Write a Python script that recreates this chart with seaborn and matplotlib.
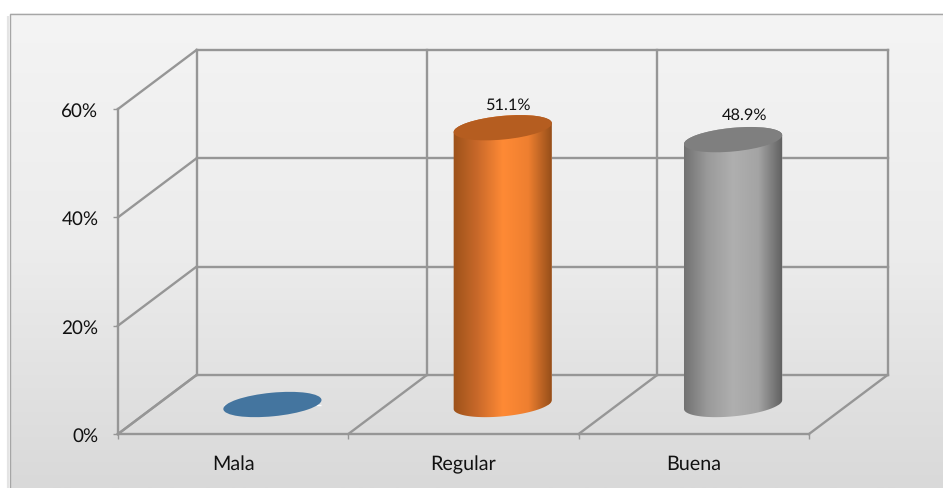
import numpy as np
import matplotlib
matplotlib.use("Agg")
import matplotlib.pyplot as plt
import seaborn as sns
from matplotlib.colors import LinearSegmentedColormap
from matplotlib.patches import Ellipse, PathPatch
from matplotlib.path import Path
from matplotlib.transforms import Affine2D, IdentityTransform

categories = ["Mala", "Regular", "Buena"]
values = [0.0, 51.1, 48.9]
value_labels = ["", "51.1%", "48.9%"]
y_ticks = [0, 20, 40, 60]
y_tick_labels = ["0%", "20%", "40%", "60%"]

bar_colors = ["#44759F", "#ED7D31", "#A5A5A5"]
top_colors = ["#44759F", "#B55D20", "#7F7F7F"]
side_stops = [None,
              ["#9A5019", "#C9692A", "#FF8A35", "#EE7F30", "#8E4A17"],
              ["#6E6E6E", "#9A9A9A", "#AFAFAF", "#A4A4A4", "#5C5C5C"]]
grid_color = "#969696"

W, H = 943, 489
DX, DY = 78.5, 59.0          # depth of the 3-D box, in pixels
BAR_W = 0.421
ELL_A, ELL_B, ELL_T = 49.3, 11.8, 5.5
LABEL_OFFSETS = [(0, 0), (5.5, 23), (11, 25)]

sns.set_theme(style="white")
plt.rcParams["font.family"] = ["Lato", "DejaVu Sans"]
plt.rcParams["text.hinting"] = "no_hinting"

fig = plt.figure(figsize=(W / 100, H / 100), dpi=100, facecolor="white")

# chart-area background
bg = fig.add_axes([0, 0, 1, 1], zorder=0)
bg.set_xlim(0, W)
bg.set_ylim(H, 0)
bg.axis("off")
bg.imshow(np.linspace(0, 1, 256).reshape(-1, 1),
          cmap=LinearSegmentedColormap.from_list("bg", ["#F4F4F4", "#ECECEC", "#D9D9D9"]),
          extent=(10, W, H, 14.5), aspect="auto", vmin=0, vmax=1)
bg.plot([7.5, 7.5], [17, H], color="#E4E4E4", lw=1.6, solid_capstyle="butt")
bg.plot([10, 10, W], [H, 14.5, 14.5], color="#A6A6A6", lw=1.0, solid_joinstyle="miter")
bg.set_xlim(0, W)
bg.set_ylim(H, 0)

# main axes = the front plane of the 3-D box
ax = fig.add_axes([118 / W, (H - 435) / H, (809 - 118) / W, (435 - 110) / H], zorder=1)
ax.patch.set_visible(False)
sns.barplot(x=categories, y=values, hue=categories, palette=bar_colors,
            width=BAR_W, dodge=False, legend=False, ax=ax, saturation=1)
ax.set_xlim(-0.5, 2.5)
ax.set_ylim(0, 60)
ax.set_xlabel("")
ax.set_ylabel("")

back = ax.transData + Affine2D().translate(DX, DY)
mid = ax.transData + Affine2D().translate(DX / 2, DY / 2)
bars = list(ax.patches)
for p in bars:
    p.set_transform(mid)
    p.set_zorder(3)

# box lines
boundaries = [-0.5, 0.5, 1.5, 2.5]
line_kw = dict(color=grid_color, lw=1.7, zorder=1, clip_on=False, solid_capstyle="projecting")
for t in y_ticks:
    ax.plot([-0.5, 2.5], [t, t], transform=back, **line_kw)
    xy0 = ax.transData.transform((-0.5, t))
    ax.plot([xy0[0], xy0[0] + DX], [xy0[1], xy0[1] + DY], transform=IdentityTransform(), **line_kw)
for b in boundaries:
    ax.plot([b, b], [0, 60], transform=back, **line_kw)
    xy0 = ax.transData.transform((b, 0))
    ax.plot([xy0[0], xy0[0] + DX], [xy0[1], xy0[1] + DY], transform=IdentityTransform(), **line_kw)

# axes, ticks and labels
for s in ["top", "right"]:
    ax.spines[s].set_visible(False)
for s in ["left", "bottom"]:
    ax.spines[s].set_visible(True)
    ax.spines[s].set_color(grid_color)
    ax.spines[s].set_linewidth(1.7)
ax.set_yticks(y_ticks, y_tick_labels)
ax.set_xticks(range(len(categories)), categories)
ax.set_xticks(boundaries, minor=True)
ax.tick_params(axis="y", which="major", left=True, length=3.6, width=1.0, color=grid_color,
               pad=10.5, labelsize=13.6, labelcolor="#111111")
ax.tick_params(axis="x", which="major", bottom=False, pad=8.5, labelsize=14.2, labelcolor="#111111")
ax.tick_params(axis="x", which="minor", bottom=True, length=3.6, width=1.0, color=grid_color)


def ellipse_arc(cx, cy, a0, a1, n=80):
    th = np.radians(np.linspace(a0, a1, n))
    t = np.radians(ELL_T)
    x, y = ELL_A * np.cos(th), ELL_B * np.sin(th)
    return np.column_stack([cx + x * np.cos(t) - y * np.sin(t),
                            cy + x * np.sin(t) + y * np.cos(t)])


# parametric angle of the point where the ellipse has its right-most x
right_angle = np.degrees(np.arctan2(-ELL_B * np.sin(np.radians(ELL_T)), ELL_A * np.cos(np.radians(ELL_T))))

for i, (v, label) in enumerate(zip(values, value_labels)):
    bx, by = mid.transform((i, 0))
    tx, ty = mid.transform((i, v))
    if v > 0:
        lower = ellipse_arc(bx, by, right_angle - 180, right_angle)
        upper = ellipse_arc(tx, ty, right_angle, right_angle + 180)
        outline = np.vstack([lower, upper, lower[:1]])
        clip = Path(outline, closed=True)
        bars[i].set_clip_path(PathPatch(clip, transform=IdentityTransform()))
        cmap = LinearSegmentedColormap.from_list(f"side{i}", side_stops[i])
        # the shaded side of the cylinder covers the bar drawn by seaborn
        im = ax.imshow(np.linspace(0, 1, 256).reshape(1, -1), cmap=cmap, aspect="auto",
                       extent=(i - BAR_W / 2 - 0.01, i + BAR_W / 2 + 0.01, -5, v + 5),
                       transform=mid, zorder=3.2, vmin=0, vmax=1)
        im.set_clip_path(PathPatch(clip, transform=IdentityTransform()))
    # top cap
    cap = Ellipse((0, 0), 2, 2, facecolor=top_colors[i], edgecolor="none", zorder=4,
                  transform=Affine2D().scale(ELL_A, ELL_B).rotate_deg(ELL_T).translate(tx, ty),
                  clip_on=False)
    ax.add_artist(cap)
    if label:
        ax.annotate(label, xy=(i, v), xycoords=mid, xytext=LABEL_OFFSETS[i], textcoords="offset pixels",
                    ha="center", va="center", fontsize=11.8, color="#111111",
                    annotation_clip=False, zorder=5)

ax.set_xlim(-0.5, 2.5)
ax.set_ylim(0, 60)
fig.savefig("out.png", dpi=100)
